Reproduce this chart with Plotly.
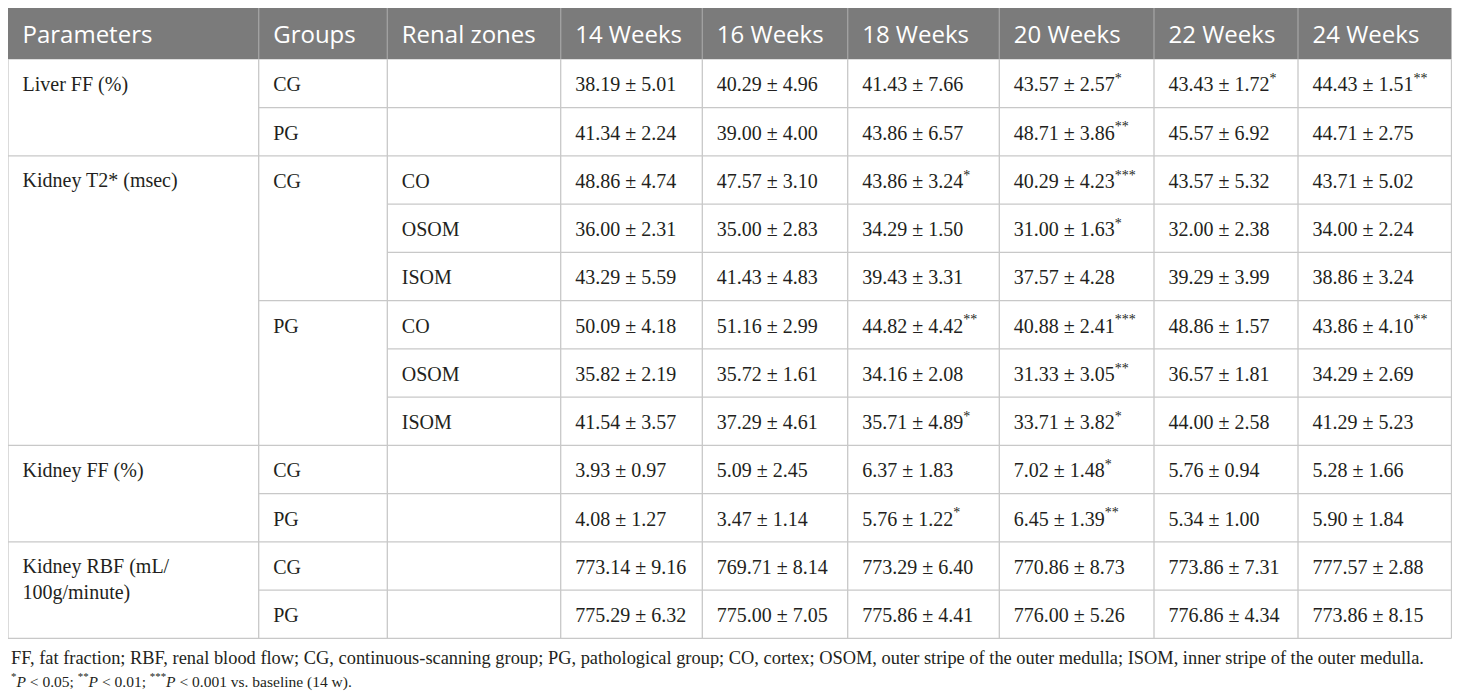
import plotly.graph_objects as go

# Table content
weeks = ["14 Weeks", "16 Weeks", "18 Weeks", "20 Weeks", "22 Weeks", "24 Weeks"]
header = ["Parameters", "Groups", "Renal zones"] + weeks

parameters = ["Liver FF (%)", "Kidney T2* (msec)", "Kidney FF (%)", "Kidney RBF (mL/<br>100g/minute)"]
param_rows = [2, 6, 2, 2]  # how many rows each parameter spans

groups = ["CG", "PG", "CG", "", "", "PG", "", "", "CG", "PG", "CG", "PG"]
zones = ["", "", "CO", "OSOM", "ISOM", "CO", "OSOM", "ISOM", "", "", "", ""]

means = [
    [38.19, 40.29, 41.43, 43.57, 43.43, 44.43],
    [41.34, 39.00, 43.86, 48.71, 45.57, 44.71],
    [48.86, 47.57, 43.86, 40.29, 43.57, 43.71],
    [36.00, 35.00, 34.29, 31.00, 32.00, 34.00],
    [43.29, 41.43, 39.43, 37.57, 39.29, 38.86],
    [50.09, 51.16, 44.82, 40.88, 48.86, 43.86],
    [35.82, 35.72, 34.16, 31.33, 36.57, 34.29],
    [41.54, 37.29, 35.71, 33.71, 44.00, 41.29],
    [3.93, 5.09, 6.37, 7.02, 5.76, 5.28],
    [4.08, 3.47, 5.76, 6.45, 5.34, 5.90],
    [773.14, 769.71, 773.29, 770.86, 773.86, 777.57],
    [775.29, 775.00, 775.86, 776.00, 776.86, 773.86],
]
sds = [
    [5.01, 4.96, 7.66, 2.57, 1.72, 1.51],
    [2.24, 4.00, 6.57, 3.86, 6.92, 2.75],
    [4.74, 3.10, 3.24, 4.23, 5.32, 5.02],
    [2.31, 2.83, 1.50, 1.63, 2.38, 2.24],
    [5.59, 4.83, 3.31, 4.28, 3.99, 3.24],
    [4.18, 2.99, 4.42, 2.41, 1.57, 4.10],
    [2.19, 1.61, 2.08, 3.05, 1.81, 2.69],
    [3.57, 4.61, 4.89, 3.82, 2.58, 5.23],
    [0.97, 2.45, 1.83, 1.48, 0.94, 1.66],
    [1.27, 1.14, 1.22, 1.39, 1.00, 1.84],
    [9.16, 8.14, 6.40, 8.73, 7.31, 2.88],
    [6.32, 7.05, 4.41, 5.26, 4.34, 8.15],
]
# number of significance stars
stars = [
    [0, 0, 0, 1, 1, 2],
    [0, 0, 0, 2, 0, 0],
    [0, 0, 1, 3, 0, 0],
    [0, 0, 0, 1, 0, 0],
    [0, 0, 0, 0, 0, 0],
    [0, 0, 2, 3, 0, 2],
    [0, 0, 0, 2, 0, 0],
    [0, 0, 1, 1, 0, 0],
    [0, 0, 0, 1, 0, 0],
    [0, 0, 1, 2, 0, 0],
    [0, 0, 0, 0, 0, 0],
    [0, 0, 0, 0, 0, 0],
]

footnotes = [
    "FF, fat fraction; RBF, renal blood flow; CG, continuous-scanning group; PG, pathological group; "
    "CO, cortex; OSOM, outer stripe of the outer medulla; ISOM, inner stripe of the outer medulla.",
    "<sup>*</sup><i>P</i> &lt; 0.05; <sup>**</sup><i>P</i> &lt; 0.01; "
    "<sup>***</sup><i>P</i> &lt; 0.001 vs. baseline (14 w).",
]
footnote_sizes = [18.4, 15.5]

# geometry in page pixels (the html body has an 8px margin)
W, H = 1460, 699
M = 8
col_edges = [8, 258.7, 387.3, 560.7, 702.3, 847.7, 999.3, 1154, 1298, 1451.5]
head_top, head_bot = 8, 59.3
row_h = 48.25
n_rows = len(groups)
table_bot = head_bot + row_h * n_rows
pad = 14.5
dy = 3  # nudge text baseline

HEAD_BG = "#7b7b7b"
HEAD_SEP = "#a3a3a3"
GRID = "#c8c8c8"
TXT = "#231f20"
SERIF = "Liberation Serif"

def row_mid(i):
    return head_bot + row_h * (i + 0.5) + dy

fig = go.Figure()

# header text
fig.add_trace(go.Scatter(
    x=[e + pad for e in col_edges[:-1]],
    y=[(head_top + head_bot) / 2 + dy] * len(header),
    text=header, mode="text", textposition="middle right",
    textfont=dict(family="Open Sans", size=24, color="white"),
    hoverinfo="skip", showlegend=False,
))

# parameter names (top of their merged block)
starts = [sum(param_rows[:k]) for k in range(len(param_rows))]
fig.add_trace(go.Scatter(
    x=[col_edges[0] + pad] * len(parameters),
    y=[row_mid(s) - 10.5 for s in starts],
    text=parameters, mode="text", textposition="bottom right",
    textfont=dict(family=SERIF, size=20, color=TXT),
    hoverinfo="skip", showlegend=False,
))

# groups and zones
for c, labels in [(1, groups), (2, zones)]:
    idx = [i for i, g in enumerate(labels) if g]
    fig.add_trace(go.Scatter(
        x=[col_edges[c] + pad] * len(idx),
        y=[row_mid(i) for i in idx],
        text=[labels[i] for i in idx], mode="text", textposition="middle right",
        textfont=dict(family=SERIF, size=20, color=TXT),
        hoverinfo="skip", showlegend=False,
    ))

# values mean ± sd
for j in range(len(weeks)):
    cells = []
    for i in range(n_rows):
        s = f"{means[i][j]:.2f} ± {sds[i][j]:.2f}"
        if stars[i][j]:
            s += "<sup>" + "*" * stars[i][j] + "</sup>"
        cells.append(s)
    fig.add_trace(go.Scatter(
        x=[col_edges[3 + j] + pad] * n_rows,
        y=[row_mid(i) for i in range(n_rows)],
        text=cells, mode="text", textposition="middle right",
        textfont=dict(family=SERIF, size=20, color=TXT),
        hoverinfo="skip", showlegend=False,
    ))

shapes = []
# header background and separators
shapes.append(dict(type="rect", x0=col_edges[0], x1=col_edges[-1], y0=head_top, y1=head_bot,
                   fillcolor=HEAD_BG, line_width=0, layer="below"))
for e in col_edges[1:-1]:
    shapes.append(dict(type="line", x0=e, x1=e, y0=head_top, y1=head_bot,
                       line=dict(color=HEAD_SEP, width=1.3), layer="below"))
# body vertical lines
for e in col_edges:
    shapes.append(dict(type="line", x0=e, x1=e, y0=head_bot, y1=table_bot,
                       line=dict(color=GRID, width=1.3), layer="below"))
# body horizontal lines, skipping merged cells
param_of_row = [k for k, n in enumerate(param_rows) for _ in range(n)]
for i in range(1, n_rows):
    y = head_bot + row_h * i
    if param_of_row[i] != param_of_row[i - 1]:
        x0 = col_edges[0]
    elif groups[i]:
        x0 = col_edges[1]
    else:
        x0 = col_edges[2]
    shapes.append(dict(type="line", x0=x0, x1=col_edges[-1], y0=y, y1=y,
                       line=dict(color=GRID, width=1.3), layer="below"))
shapes.append(dict(type="line", x0=col_edges[0], x1=col_edges[-1], y0=table_bot, y1=table_bot,
                   line=dict(color=GRID, width=1.3), layer="below"))

annotations = []
for k, t in enumerate(footnotes):
    annotations.append(dict(
        x=col_edges[0] + 0.5, y=table_bot + 20 + 22 * k, xref="x", yref="y",
        text=t, showarrow=False, xanchor="left", yanchor="middle",
        font=dict(family=SERIF, size=footnote_sizes[k], color=TXT),
    ))

fig.update_layout(
    width=W - 2 * M, height=H - 2 * M,
    margin=dict(l=0, r=0, t=0, b=0),
    paper_bgcolor="white", plot_bgcolor="white",
    xaxis=dict(range=[M, W - M], visible=False, fixedrange=True),
    yaxis=dict(range=[H - M, M], visible=False, fixedrange=True),
    shapes=shapes, annotations=annotations,
)

fig.write_html("out.html")
